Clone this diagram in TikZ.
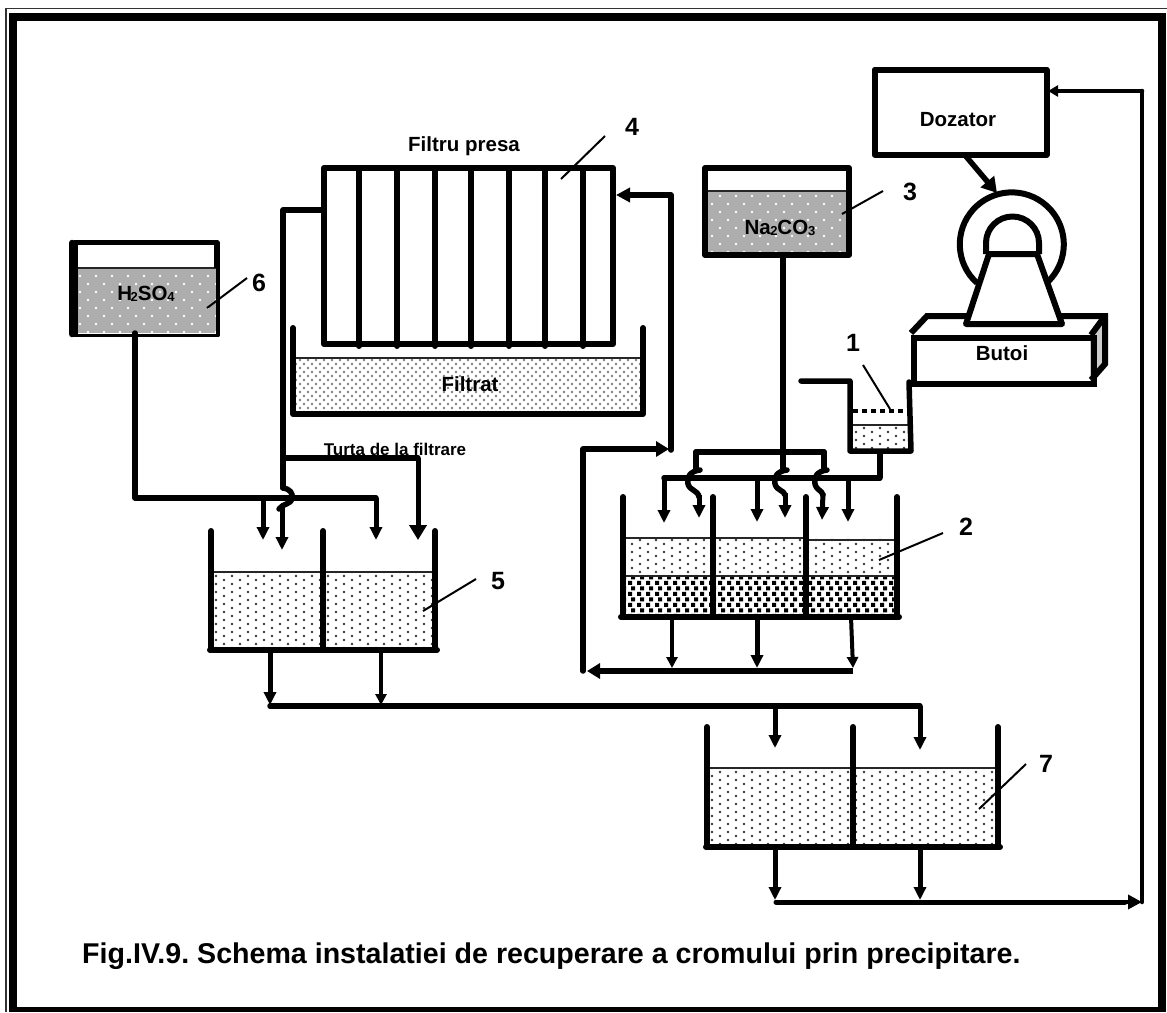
\documentclass[tikz,border=0pt]{standalone}
\usepackage{fontspec}
\setmainfont{Liberation Sans}
\usetikzlibrary{arrows.meta,patterns}
\pgfdeclarepatternformonly{lightdots}{\pgfqpoint{-2pt}{-2pt}}{\pgfqpoint{14pt}{6pt}}{\pgfqpoint{16pt}{8pt}}{%
  \pgfpathcircle{\pgfqpoint{0pt}{0pt}}{1.4pt}\pgfpathcircle{\pgfqpoint{8pt}{4pt}}{1.4pt}\pgfusepath{fill}}
\pgfdeclarepatternformonly{densedots}{\pgfqpoint{-2pt}{-2pt}}{\pgfqpoint{6pt}{6pt}}{\pgfqpoint{8pt}{8pt}}{%
  \pgfpathcircle{\pgfqpoint{0pt}{0pt}}{1.3pt}\pgfpathcircle{\pgfqpoint{4pt}{4pt}}{1.3pt}\pgfusepath{fill}}
\pgfdeclarepatternformonly{sparkdots}{\pgfqpoint{-2pt}{-2pt}}{\pgfqpoint{14pt}{14pt}}{\pgfqpoint{16pt}{16pt}}{%
  \pgfpathcircle{\pgfqpoint{0pt}{0pt}}{1.4pt}\pgfpathcircle{\pgfqpoint{8pt}{8pt}}{1.4pt}\pgfusepath{fill}}
\pgfdeclarepatternformonly{blockdots}{\pgfqpoint{-2pt}{-2pt}}{\pgfqpoint{7pt}{9pt}}{\pgfqpoint{9pt}{11pt}}{%
  \pgfpathrectangle{\pgfqpoint{-2pt}{-2pt}}{\pgfqpoint{4pt}{4pt}}%
  \pgfpathrectangle{\pgfqpoint{1pt}{3.5pt}}{\pgfqpoint{4pt}{4pt}}\pgfusepath{fill}}
\tikzset{
  x=1pt,y=-1pt,
  wall/.style={line width=6pt,line cap=round,line join=round},
  pipe/.style={line width=5.5pt,line cap=round,line join=round},
  thinpipe/.style={line width=4.5pt,line cap=round,line join=round},
  feed/.style={line width=5pt,line join=round,-{Triangle[length=13pt,width=12pt]}},
  smallfeed/.style={line width=4pt,line join=round,-{Triangle[length=11pt,width=11pt]}},
  bigfeed/.style={line width=5pt,line join=round,-{Triangle[length=15pt,width=17pt]}},
  leader/.style={line width=2pt},
  lbl/.style={font=\fontsize{20.5}{22}\selectfont\bfseries,inner sep=0pt},
  num/.style={font=\fontsize{25}{27}\selectfont\bfseries,inner sep=0pt},
  lightliq/.style={pattern=lightdots,pattern color=black!80},
  filterliq/.style={pattern=densedots,pattern color=black!50},
  coarseliq/.style={pattern=blockdots,pattern color=black},
  surface/.style={line width=1.8pt,black!85},
  chem/.style={fill=black!32},
}
\newcommand{\twovat}[6]{% x1 x2 x3 top liquid bottom
  \fill[lightliq] (#1,#5) rectangle (#3,#6);
  \draw[surface] (#1,#5) -- (#3,#5);
  \draw[wall] (#1,#4) -- (#1,#6) (#2,#4) -- (#2,#6) (#3,#4) -- (#3,#6);
  \draw[wall] (#1-1,#6) -- (#3+2,#6);
}
\begin{document}
\frenchspacing
\begin{tikzpicture}
\useasboundingbox (0,0) rectangle (1167,1012);
\fill[white] (0,0) rectangle (1167,1012);
% frame
\draw[line width=1.6pt,black!80] (6,1012) -- (6,8.5) -- (1167,8.5);
\draw[line width=8pt] (13,1012) -- (13,16.5) -- (1161.5,16.5) -- (1161.5,1012);
\fill (9,1007) rectangle (1165.5,1012);

% --- coordinates of the pipe work
\coordinate (dozE) at (1048,91);
\coordinate (retC) at (1142,91);
\coordinate (retB) at (1142,902);
\coordinate (dozS) at (964,154);
\coordinate (drumN) at (997,193);
\coordinate (vesS) at (880,451);
\coordinate (manR) at (880,478);
\coordinate (manL) at (664,478);
\coordinate (dropA) at (664,523);
\coordinate (dropB) at (757,522);
\coordinate (dropC) at (848,522);
\coordinate (manBm) at (757,478);
\coordinate (manCm) at (848,478);
\coordinate (naS) at (783,257);
\coordinate (topL) at (696,452);
\coordinate (topR) at (824,452);
\coordinate (out1) at (672,617);
\coordinate (out1e) at (672,668);
\coordinate (out2) at (757,617);
\coordinate (out2e) at (757,668);
\coordinate (out3) at (851,617);
\coordinate (out3e) at (853,668);
\coordinate (colR) at (853,671);
\coordinate (colL) at (587,671);
\coordinate (riseB) at (583,671);
\coordinate (riseT) at (583,449);
\coordinate (riseE) at (669,449);
\coordinate (upB) at (671,450);
\coordinate (upT) at (671,195);
\coordinate (pressE) at (616,195);
\coordinate (pressW) at (324,210);
\coordinate (cakeC) at (283,210);
\coordinate (cakeJ) at (283,458);
\coordinate (cakeR) at (418,458);
\coordinate (cakeE) at (418,540);
\coordinate (acidS) at (135,333);
\coordinate (acidC) at (135,498);
\coordinate (acidR) at (376,498);
\coordinate (acidE) at (376,540);
\coordinate (acidM) at (263,498);
\coordinate (acidME) at (263,540);
\coordinate (v5a) at (270,650);
\coordinate (v5aE) at (270,705);
\coordinate (v5b) at (381,650);
\coordinate (v5bE) at (381,705);
\coordinate (busL) at (270,706);
\coordinate (busR) at (920,706);
\coordinate (busM) at (775,706);
\coordinate (busME) at (775,748);
\coordinate (busRE) at (920,750);
\coordinate (v7a) at (775,847);
\coordinate (v7aE) at (775,900);
\coordinate (v7b) at (920,847);
\coordinate (v7bE) at (920,900);
\coordinate (lastL) at (776,902);

% --- Dozator
\node[draw,line width=6pt,line join=round,minimum width=172pt,minimum height=85pt,inner sep=0pt,anchor=north west] (doz) at (871.5,66.5) {};
\node[lbl] (dozt) at (958,120) {Dozator};

% --- drum
\draw[line width=6pt] (977,283) arc[start angle=132,end angle=408,x radius=52,y radius=52];
\draw[line width=6pt,line join=round] (986,254) -- (986,243) arc[start angle=180,end angle=0,x radius=26.5,y radius=-26.5] -- (1039,254);
\draw[line width=5.5pt,-{Triangle[length=15pt,width=17pt]}] (dozS) -- (drumN);

% --- Butoi
\fill[black!20] (1090,333) -- (1107,314) -- (1107,365) -- (1090,382) -- cycle;
\draw[wall,line cap=butt,line join=miter] (911,333) -- (927,316) -- (1105,316) -- (1105,364) -- (1091,380);
\draw[wall,line cap=butt] (1091,335) -- (1105,316);
\node[draw,line width=6pt,minimum width=180pt,minimum height=46pt,inner sep=0pt,anchor=north west] (but) at (911,335) {};
\node[lbl] (butt) at (1002,353) {Butoi};
\draw[line width=6pt,line join=round,fill=white] (989,254) -- (1037,254) -- (1062,324) -- (966,324) -- cycle;

% --- vessel 1
\fill[lightliq,pattern color=black!80] (851,425) rectangle (910,449);
\draw[surface] (851,425) -- (910,425);
\draw[line width=4pt,dash pattern=on 5pt off 4pt] (853,411) -- (908,411);
\draw[pipe] (801,381) -- (850,381) -- (850,451) -- (911,451) -- (909,382);
\draw[pipe,line cap=butt] (880,451) -- (880,478);
\node[num] (n1) at (853,343) {1};
\coordinate (l1a) at (863,365); \coordinate (l1b) at (890,409);
\draw[leader] (l1a) -- (l1b);

% --- Na2CO3 tank (3)
\fill[chem] (705,191) rectangle (847,255);
\fill[pattern=sparkdots,pattern color=white] (705,191) rectangle (847,255);
\draw[surface] (705,191) -- (847,191);
\draw[wall] (705,168) rectangle (849,255);
\node[lbl] (nat) at (780,228) {Na\kern-0.5pt\raisebox{-1.5pt}{\fontsize{13}{13}\selectfont 2}CO\raisebox{-1.5pt}{\fontsize{13}{13}\selectfont 3}};
\node[num] (n3) at (910,192) {3};
\coordinate (l3a) at (883,191); \coordinate (l3b) at (842,214);
\draw[leader] (l3a) -- (l3b);

% --- H2SO4 tank (6)
\fill[chem] (75,268) rectangle (216,333);
\fill[pattern=sparkdots,pattern color=white] (75,268) rectangle (216,333);
\draw[surface] (75,268) -- (216,268);
\draw[line width=5.5pt,line join=round] (75,335) -- (75,242.5) -- (217,242.5) -- (217,268);
\draw[line width=6.5pt,line cap=round] (72,243) -- (72,334);
\draw[line width=3.5pt,line join=round] (72,335.5) -- (218,335.5) -- (218,268);
\node[lbl] (h2t) at (146,294) {H\kern-1.5pt\raisebox{-1.5pt}{\fontsize{13}{13}\selectfont 2}SO\raisebox{-1.5pt}{\fontsize{13}{13}\selectfont 4}};
\node[num] (n6) at (259,283) {6};
\coordinate (l6a) at (247,278); \coordinate (l6b) at (207,308);
\draw[leader] (l6a) -- (l6b);

% --- filter press (4)
\fill[filterliq] (296,358) rectangle (640,411);
\draw[surface] (296,358) -- (640,358);
\draw[wall] (293,328) -- (293,414) -- (643,414) -- (643,328);
\node[lbl] (filt) at (470,384) {Filtrat};
\foreach \px in {359,397,435,471,509,545,583} {\draw[wall] (\px,168) -- (\px,346);}
\draw[wall] (324,168) rectangle (613,344);
\node[lbl] (presa) at (464,146) {Filtru presa};
\node[num] (n4) at (632,127) {4};
\coordinate (l4a) at (605,136); \coordinate (l4b) at (561,179);
\draw[leader] (l4a) -- (l4b);

% --- settling vat 2
\fill[lightliq] (623,538) rectangle (897,576);
\fill[coarseliq] (623,576) rectangle (897,617);
\draw[surface] (623,538) -- (806,538) (806,540) -- (897,540);
\draw[surface] (623,576) -- (897,576);
\draw[wall] (623,497) -- (623,617) (713,497) -- (713,617) (806,497) -- (806,617) (897,497) -- (897,617);
\draw[wall] (621,617) -- (899,617);
\node[num] (n2) at (966,527) {2};
\coordinate (l2a) at (943,533); \coordinate (l2b) at (879,560);
\draw[leader] (l2a) -- (l2b);

% --- vat 5
\twovat{211}{323}{435}{531}{572}{650}
\node[num] (n5) at (498,581) {5};
\coordinate (l5a) at (476,579); \coordinate (l5b) at (423,611);
\draw[leader] (l5a) -- (l5b);

% --- vat 7
\twovat{707}{853}{998}{727}{768}{847}
\node[num] (n7) at (1046,764) {7};
\coordinate (l7a) at (1026,764); \coordinate (l7b) at (979,809);
\draw[leader] (l7a) -- (l7b);

% --- pipe work
\draw[pipe] (manL) -- (manR);
\draw[feed] (manL) -- (dropA);
\draw[feed] (manBm) -- (dropB);
\draw[feed] (manCm) -- (dropC);
\draw[pipe] (topL) -- (topR);
\draw[pipe] (naS) -- (783,470);
\draw[pipe] (topL) -- (696,470) (topR) -- (824,470);
% crossings over the manifold
\draw[pipe] (700,470) .. controls (690,471) and (686,478) .. (688,484) .. controls (690,491) and (698,490) .. (699,497);
\draw[pipe] (787,470) .. controls (777,471) and (773,478) .. (775,484) .. controls (777,491) and (784,490) .. (785,495);
\draw[pipe] (827,470) .. controls (817,471) and (813,478) .. (815,484) .. controls (817,491) and (822,490) .. (823,495);
\coordinate (hkA) at (699,495); \coordinate (hkAE) at (699,518);
\coordinate (hkB) at (785,493); \coordinate (hkBE) at (785,518);
\coordinate (hkC) at (823,493); \coordinate (hkCE) at (822,520);
\draw[feed] (hkA) -- (hkAE);
\draw[feed] (hkB) -- (hkBE);
\draw[feed] (hkC) -- (hkCE);

\draw[smallfeed] (out1) -- (out1e);
\draw[feed] (out2) -- (out2e);
\draw[smallfeed] (out3) -- (out3e);
\draw[pipe,line cap=butt] (colR) -- (600,671);
\draw[line width=5.5pt,-{Triangle[length=13pt,width=15pt]}] (600,671) -- (colL);
\draw[pipe] (riseB) -- (riseT) -- (655,449);
\draw[line width=5.5pt,-{Triangle[length=13pt,width=15pt]}] (650,449) -- (riseE);
\draw[pipe] (upB) -- (upT) -- (630,195);
\draw[line width=5pt,-{Triangle[length=14pt,width=14pt]}] (630,195) -- (pressE);

\draw[pipe] (pressW) -- (cakeC) -- (283,488);
\draw[pipe] (cakeJ) -- (cakeR);
\draw[bigfeed] (cakeR) -- (cakeE);
\draw[pipe] (acidS) -- (acidC) -- (acidR);
\draw[feed] (acidR) -- (acidE);
\draw[feed] (acidM) -- (acidME);
\draw[pipe] (283,488) .. controls (290,489) and (293,493) .. (292,498) .. controls (291,505) and (283,503) .. (279,509);
\coordinate (hkD) at (282,506); \coordinate (hkDE) at (282,550);
\draw[feed] (hkD) -- (hkDE);
\node[lbl,font=\fontsize{17}{18}\selectfont\bfseries] (turta) at (395,449) {Turta de la filtrare};

\draw[feed] (v5a) -- (v5aE);
\draw[smallfeed] (v5b) -- (v5bE);
\draw[pipe] (busL) -- (busR);
\draw[feed] (busM) -- (busME);
\draw[feed] (busR) -- (busRE);
\draw[feed] (v7a) -- (v7aE);
\draw[feed] (v7b) -- (v7bE);
\draw[line width=5pt,line cap=round] (lastL) -- (1125,902);
\draw[line width=4.5pt,-{Triangle[length=14pt,width=14pt]}] (1120,902) -- (retB);
\draw[thinpipe] (retB) -- (retC);
\draw[thinpipe] (retC) -- (1060,91);
\draw[line width=4.5pt,-{Triangle[length=10pt,width=11pt]}] (1065,91) -- (dozE);

\node[inner sep=0pt,anchor=base west,font=\fontsize{28.6}{30}\selectfont\bfseries] (cap) at (82,963) {Fig.IV.9. Schema instalatiei de recuperare a cromului prin precipitare.};
\end{tikzpicture}
\end{document}
